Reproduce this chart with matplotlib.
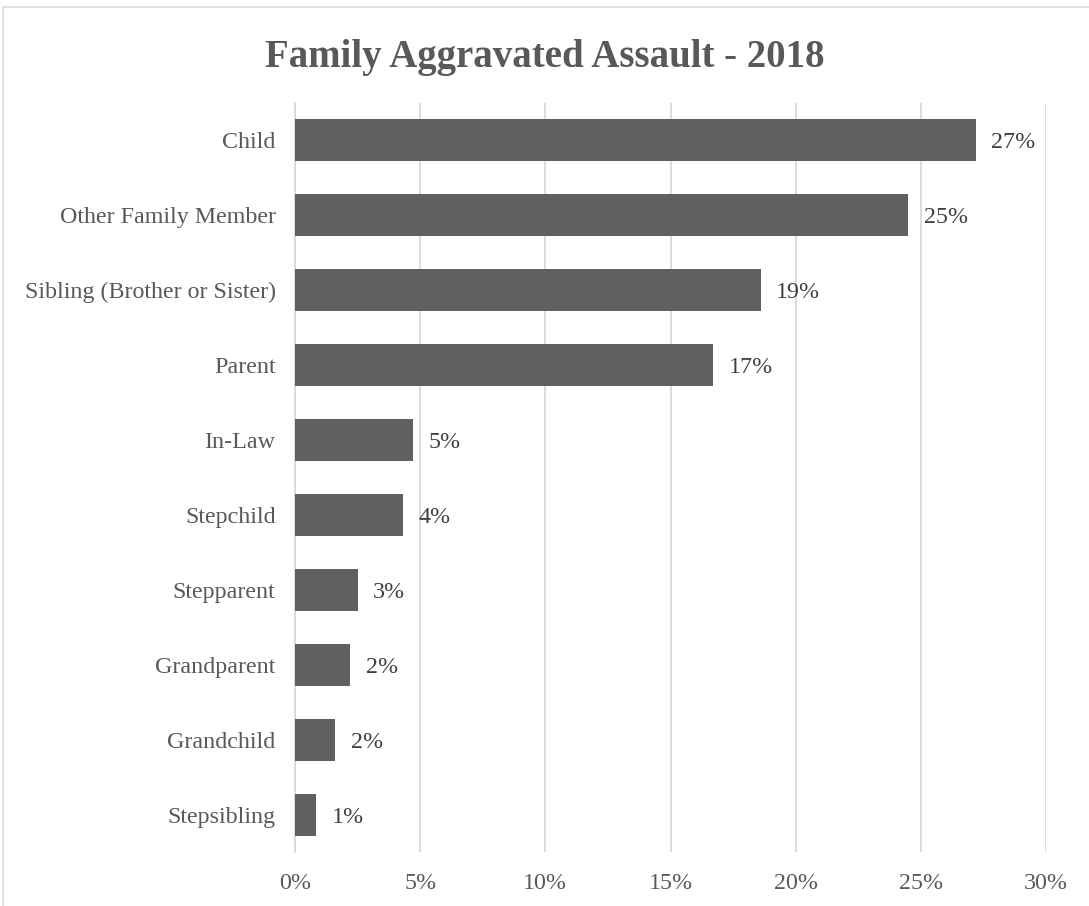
import matplotlib
matplotlib.use("Agg")
import matplotlib.pyplot as plt
from matplotlib.patches import Rectangle

categories = ["Child", "Other Family Member", "Sibling (Brother or Sister)", "Parent",
              "In-Law", "Stepchild", "Stepparent", "Grandparent", "Grandchild", "Stepsibling"]
values = [27.2, 24.5, 18.6, 16.7, 4.7, 4.3, 2.5, 2.2, 1.6, 0.84]
labels = ["27%", "25%", "19%", "17%", "5%", "4%", "3%", "2%", "2%", "1%"]
xticks = [0, 5, 10, 15, 20, 25, 30]
xticklabels = ["0%", "5%", "10%", "15%", "20%", "25%", "30%"]
title = "Family Aggravated Assault - 2018"

plt.rcParams['font.family'] = ['Liberation Serif', 'DejaVu Serif']

fig = plt.figure(figsize=(10.89, 9.06), dpi=100)
fig.patches.append(Rectangle((3/1089, -0.01), 1.0, 1 - 7/906 + 0.01, transform=fig.transFigure,
                             fill=False, edgecolor="#d9d9d9", linewidth=1.2))
ax = fig.add_axes([295/1089, 54/906, 751/1089, 749/906])

y = list(range(len(categories)))
ax.barh(y, values, height=0.56, color="#606060", zorder=3)
for yi, v, lab in zip(y, values, labels):
    ax.text(v + 0.62, yi, lab, va="center_baseline", ha="left", fontsize=17.3, color="#404040")

ax.set_ylim(len(categories) - 0.5, -0.5)
ax.set_xlim(0, 30)
ax.set_yticks(y)
ax.set_yticklabels(categories, fontsize=17.3, color="#595959", va="center_baseline")
ax.set_xticks(xticks)
ax.set_xticklabels(xticklabels, fontsize=17.3, color="#595959")
ax.tick_params(axis="both", length=0)
ax.tick_params(axis="y", pad=14)
ax.tick_params(axis="x", pad=15)
ax.xaxis.grid(True, color="#d9d9d9", linewidth=1.3, zorder=0)
for s in ["top", "right", "bottom"]:
    ax.spines[s].set_visible(False)
ax.spines["left"].set_color("#d9d9d9")
ax.spines["left"].set_linewidth(1.3)

fig.text(0.5, 1 - 57/906, title, ha="center", va="center", fontsize=28,
         fontweight="bold", color="#595959")

fig.savefig("out.png", dpi=100)
